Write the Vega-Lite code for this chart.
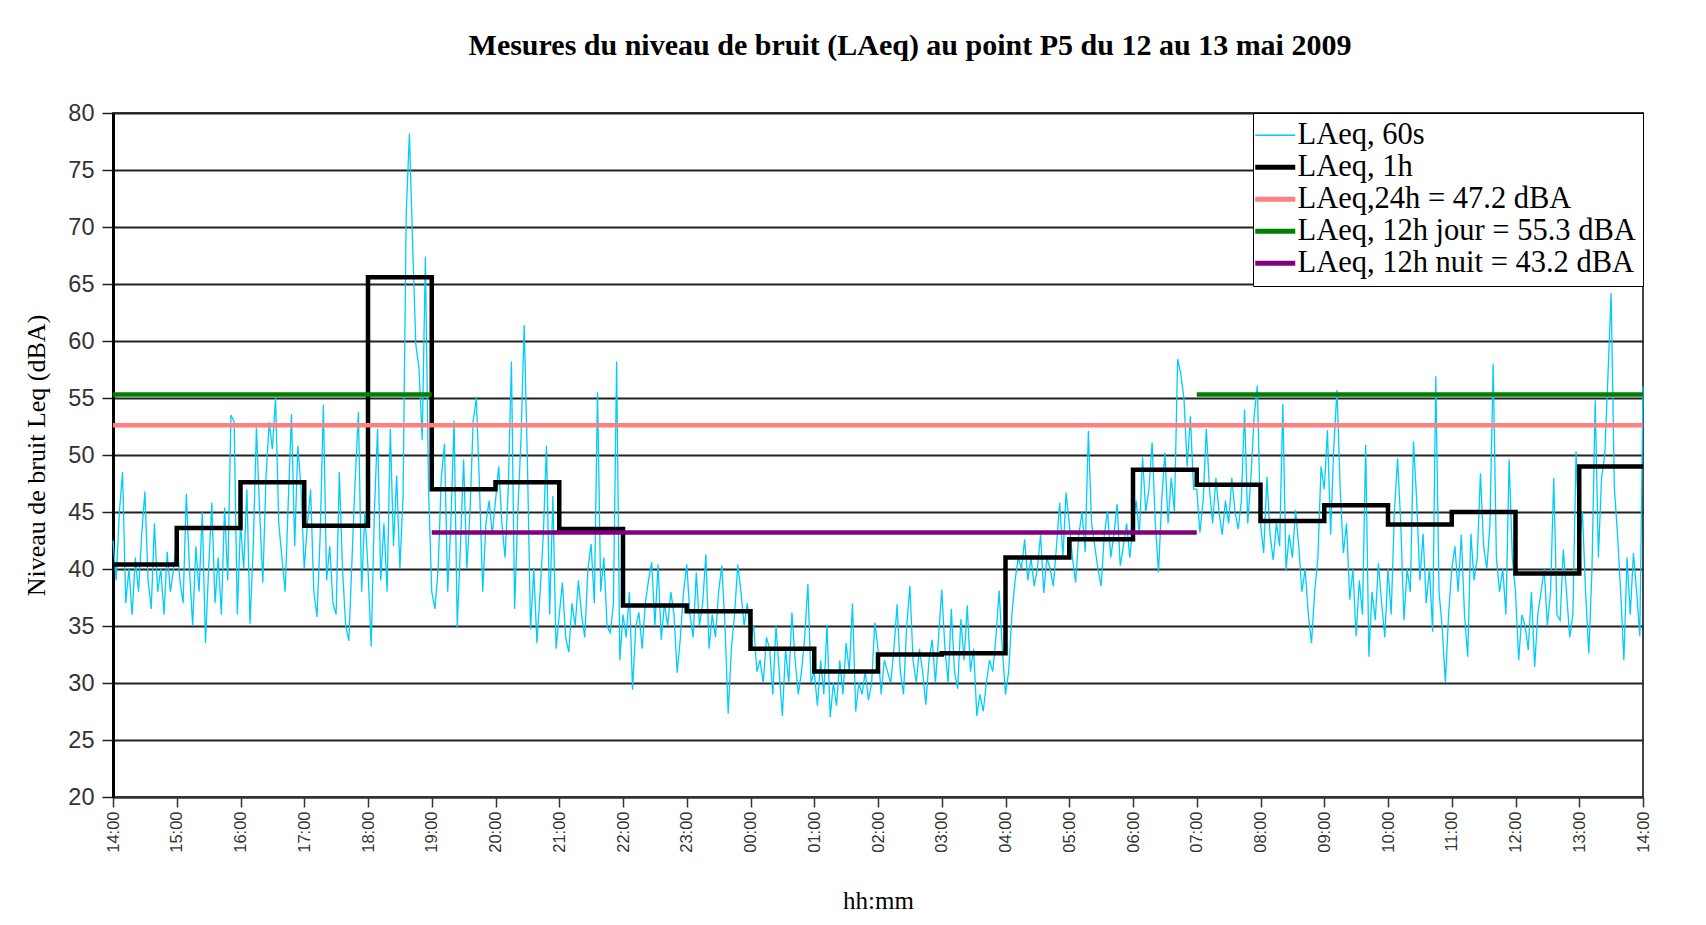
{
"$schema": "https://vega.github.io/schema/vega-lite/v6.json",
"width": 1530, "height": 684,
"autosize": {"type": "none"},
"padding": {"left": 113, "top": 113, "right": 63, "bottom": 128},
"background": "white",
"title": {"text": "Mesures du niveau de bruit (LAeq) au point P5 du 12 au 13 mai 2009", "font": "Liberation Serif", "fontSize": 30, "fontWeight": "bold", "color": "#000", "anchor": "middle", "frame": "group", "offset": 40, "dx": 32},
"data": {"values": [
{"s":"a","m":0,"v":42.5},{"s":"a","m":3,"v":39},{"s":"a","m":6,"v":45},{"s":"a","m":9,"v":48.5},{"s":"a","m":12,"v":37},{"s":"a","m":15,"v":40},{"s":"a","m":18,"v":36},{"s":"a","m":21,"v":41},{"s":"a","m":24,"v":38},{"s":"a","m":27,"v":43},{"s":"a","m":30,"v":46.8},{"s":"a","m":33,"v":39},{"s":"a","m":36,"v":36.5},{"s":"a","m":39,"v":44},{"s":"a","m":42,"v":38},{"s":"a","m":45,"v":40},{"s":"a","m":48,"v":36},{"s":"a","m":51,"v":41.5},{"s":"a","m":54,"v":38},{"s":"a","m":57,"v":40},
{"s":"a","m":60,"v":43},{"s":"a","m":63,"v":39},{"s":"a","m":66,"v":37},{"s":"a","m":69,"v":46.6},{"s":"a","m":72,"v":40},{"s":"a","m":75,"v":35},{"s":"a","m":78,"v":42},{"s":"a","m":81,"v":38},{"s":"a","m":84,"v":45},{"s":"a","m":87,"v":33.5},{"s":"a","m":90,"v":40},{"s":"a","m":93,"v":45.8},{"s":"a","m":96,"v":37},{"s":"a","m":99,"v":41},{"s":"a","m":102,"v":36},{"s":"a","m":105,"v":45.4},{"s":"a","m":108,"v":39},{"s":"a","m":111,"v":53.5},{"s":"a","m":114,"v":52.9},{"s":"a","m":117,"v":36},
{"s":"a","m":120,"v":44},{"s":"a","m":123,"v":40},{"s":"a","m":126,"v":47},{"s":"a","m":129,"v":35.2},{"s":"a","m":132,"v":42},{"s":"a","m":135,"v":52.4},{"s":"a","m":138,"v":45},{"s":"a","m":141,"v":38.8},{"s":"a","m":144,"v":48},{"s":"a","m":147,"v":52.9},{"s":"a","m":150,"v":50.5},{"s":"a","m":153,"v":55},{"s":"a","m":156,"v":44},{"s":"a","m":159,"v":41},{"s":"a","m":162,"v":38},{"s":"a","m":165,"v":46},{"s":"a","m":168,"v":53.6},{"s":"a","m":171,"v":42},{"s":"a","m":174,"v":50.8},{"s":"a","m":177,"v":47},
{"s":"a","m":180,"v":40},{"s":"a","m":183,"v":44},{"s":"a","m":186,"v":47},{"s":"a","m":189,"v":38},{"s":"a","m":192,"v":35.8},{"s":"a","m":195,"v":43},{"s":"a","m":198,"v":54.4},{"s":"a","m":201,"v":39},{"s":"a","m":204,"v":42},{"s":"a","m":207,"v":37},{"s":"a","m":210,"v":36},{"s":"a","m":213,"v":48.5},{"s":"a","m":216,"v":40},{"s":"a","m":219,"v":35},{"s":"a","m":222,"v":33.7},{"s":"a","m":225,"v":41},{"s":"a","m":228,"v":48},{"s":"a","m":231,"v":53.8},{"s":"a","m":234,"v":38},{"s":"a","m":237,"v":45},
{"s":"a","m":240,"v":40},{"s":"a","m":243,"v":33.2},{"s":"a","m":246,"v":45},{"s":"a","m":249,"v":52.3},{"s":"a","m":252,"v":39},{"s":"a","m":255,"v":44},{"s":"a","m":258,"v":38},{"s":"a","m":261,"v":52.3},{"s":"a","m":264,"v":42},{"s":"a","m":267,"v":48.2},{"s":"a","m":270,"v":40},{"s":"a","m":273,"v":46.4},{"s":"a","m":276,"v":71.3},{"s":"a","m":279,"v":78.2},{"s":"a","m":282,"v":68.5},{"s":"a","m":285,"v":59.7},{"s":"a","m":288,"v":57.6},{"s":"a","m":291,"v":51.3},{"s":"a","m":294,"v":67.4},{"s":"a","m":297,"v":47},
{"s":"a","m":300,"v":38},{"s":"a","m":303,"v":36.5},{"s":"a","m":306,"v":40},{"s":"a","m":309,"v":48},{"s":"a","m":312,"v":51},{"s":"a","m":315,"v":38},{"s":"a","m":318,"v":44},{"s":"a","m":321,"v":53},{"s":"a","m":324,"v":34.9},{"s":"a","m":327,"v":42},{"s":"a","m":330,"v":49.6},{"s":"a","m":333,"v":40},{"s":"a","m":336,"v":45},{"s":"a","m":339,"v":53},{"s":"a","m":342,"v":55},{"s":"a","m":345,"v":47},{"s":"a","m":348,"v":38},{"s":"a","m":351,"v":44},{"s":"a","m":354,"v":46},{"s":"a","m":357,"v":43},
{"s":"a","m":360,"v":46},{"s":"a","m":363,"v":49},{"s":"a","m":366,"v":44},{"s":"a","m":369,"v":41},{"s":"a","m":372,"v":47},{"s":"a","m":375,"v":58.2},{"s":"a","m":378,"v":36.5},{"s":"a","m":381,"v":45},{"s":"a","m":384,"v":51.4},{"s":"a","m":387,"v":61.4},{"s":"a","m":390,"v":49.6},{"s":"a","m":393,"v":34.7},{"s":"a","m":396,"v":40},{"s":"a","m":399,"v":33.5},{"s":"a","m":402,"v":38},{"s":"a","m":405,"v":43},{"s":"a","m":408,"v":50.8},{"s":"a","m":411,"v":36},{"s":"a","m":414,"v":46.4},{"s":"a","m":417,"v":33},
{"s":"a","m":420,"v":36},{"s":"a","m":423,"v":38.8},{"s":"a","m":426,"v":34},{"s":"a","m":429,"v":32.7},{"s":"a","m":432,"v":37},{"s":"a","m":435,"v":35},{"s":"a","m":438,"v":39},{"s":"a","m":441,"v":36},{"s":"a","m":444,"v":34},{"s":"a","m":447,"v":40},{"s":"a","m":450,"v":42.2},{"s":"a","m":453,"v":37},{"s":"a","m":456,"v":55.5},{"s":"a","m":459,"v":38},{"s":"a","m":462,"v":41},{"s":"a","m":465,"v":35},{"s":"a","m":468,"v":34.4},{"s":"a","m":471,"v":37},{"s":"a","m":474,"v":58.2},{"s":"a","m":477,"v":32},
{"s":"a","m":480,"v":36},{"s":"a","m":483,"v":34},{"s":"a","m":486,"v":38},{"s":"a","m":489,"v":29.4},{"s":"a","m":492,"v":35},{"s":"a","m":495,"v":36.2},{"s":"a","m":498,"v":33},{"s":"a","m":501,"v":37},{"s":"a","m":504,"v":39},{"s":"a","m":507,"v":40.6},{"s":"a","m":510,"v":35},{"s":"a","m":513,"v":40.4},{"s":"a","m":516,"v":33.8},{"s":"a","m":519,"v":37},{"s":"a","m":522,"v":35},{"s":"a","m":525,"v":38},{"s":"a","m":528,"v":36},{"s":"a","m":531,"v":30.9},{"s":"a","m":534,"v":34},{"s":"a","m":537,"v":38},
{"s":"a","m":540,"v":40.4},{"s":"a","m":543,"v":36},{"s":"a","m":546,"v":34},{"s":"a","m":549,"v":39.7},{"s":"a","m":552,"v":35},{"s":"a","m":555,"v":37},{"s":"a","m":558,"v":41.3},{"s":"a","m":561,"v":33},{"s":"a","m":564,"v":36},{"s":"a","m":567,"v":34},{"s":"a","m":570,"v":38},{"s":"a","m":573,"v":40.3},{"s":"a","m":576,"v":35},{"s":"a","m":579,"v":27.3},{"s":"a","m":582,"v":33},{"s":"a","m":585,"v":36},{"s":"a","m":588,"v":40.4},{"s":"a","m":591,"v":38},{"s":"a","m":594,"v":35},{"s":"a","m":597,"v":37},
{"s":"a","m":600,"v":34},{"s":"a","m":603,"v":35},{"s":"a","m":606,"v":31},{"s":"a","m":609,"v":32},{"s":"a","m":612,"v":30},{"s":"a","m":615,"v":34},{"s":"a","m":618,"v":33},{"s":"a","m":621,"v":29},{"s":"a","m":624,"v":35},{"s":"a","m":627,"v":31},{"s":"a","m":630,"v":27.1},{"s":"a","m":633,"v":33},{"s":"a","m":636,"v":30},{"s":"a","m":639,"v":36.2},{"s":"a","m":642,"v":32},{"s":"a","m":645,"v":29},{"s":"a","m":648,"v":31},{"s":"a","m":651,"v":34},{"s":"a","m":654,"v":38.7},{"s":"a","m":657,"v":30},
{"s":"a","m":660,"v":31},{"s":"a","m":663,"v":28},{"s":"a","m":666,"v":32},{"s":"a","m":669,"v":29},{"s":"a","m":672,"v":35.1},{"s":"a","m":675,"v":27},{"s":"a","m":678,"v":30},{"s":"a","m":681,"v":28},{"s":"a","m":684,"v":32},{"s":"a","m":687,"v":29},{"s":"a","m":690,"v":33.5},{"s":"a","m":693,"v":31},{"s":"a","m":696,"v":37},{"s":"a","m":699,"v":27.5},{"s":"a","m":702,"v":30},{"s":"a","m":705,"v":29},{"s":"a","m":708,"v":31},{"s":"a","m":711,"v":28.5},{"s":"a","m":714,"v":30},{"s":"a","m":717,"v":35.3},
{"s":"a","m":720,"v":33},{"s":"a","m":723,"v":29},{"s":"a","m":726,"v":32},{"s":"a","m":729,"v":31},{"s":"a","m":732,"v":30},{"s":"a","m":735,"v":33},{"s":"a","m":738,"v":36.9},{"s":"a","m":741,"v":31},{"s":"a","m":744,"v":29},{"s":"a","m":747,"v":35},{"s":"a","m":750,"v":38.5},{"s":"a","m":753,"v":32},{"s":"a","m":756,"v":30},{"s":"a","m":759,"v":33},{"s":"a","m":762,"v":31},{"s":"a","m":765,"v":28.1},{"s":"a","m":768,"v":32},{"s":"a","m":771,"v":33.8},{"s":"a","m":774,"v":30},{"s":"a","m":777,"v":34},
{"s":"a","m":780,"v":38.2},{"s":"a","m":783,"v":33},{"s":"a","m":786,"v":30},{"s":"a","m":789,"v":36.5},{"s":"a","m":792,"v":31},{"s":"a","m":795,"v":29.5},{"s":"a","m":798,"v":35.6},{"s":"a","m":801,"v":32},{"s":"a","m":804,"v":36.8},{"s":"a","m":807,"v":31},{"s":"a","m":810,"v":33},{"s":"a","m":813,"v":27.1},{"s":"a","m":816,"v":29},{"s":"a","m":819,"v":27.5},{"s":"a","m":822,"v":30},{"s":"a","m":825,"v":32},{"s":"a","m":828,"v":31},{"s":"a","m":831,"v":34},{"s":"a","m":834,"v":38.1},{"s":"a","m":837,"v":33},
{"s":"a","m":840,"v":29},{"s":"a","m":843,"v":31},{"s":"a","m":846,"v":36},{"s":"a","m":849,"v":39},{"s":"a","m":852,"v":41},{"s":"a","m":855,"v":40},{"s":"a","m":858,"v":42.6},{"s":"a","m":861,"v":39},{"s":"a","m":864,"v":41},{"s":"a","m":867,"v":38.5},{"s":"a","m":870,"v":40},{"s":"a","m":873,"v":43},{"s":"a","m":876,"v":37.9},{"s":"a","m":879,"v":41},{"s":"a","m":882,"v":40},{"s":"a","m":885,"v":38.5},{"s":"a","m":888,"v":42},{"s":"a","m":891,"v":45.8},{"s":"a","m":894,"v":41},{"s":"a","m":897,"v":46.7},
{"s":"a","m":900,"v":44},{"s":"a","m":903,"v":41},{"s":"a","m":906,"v":38.8},{"s":"a","m":909,"v":43},{"s":"a","m":912,"v":45},{"s":"a","m":915,"v":41.5},{"s":"a","m":918,"v":52.1},{"s":"a","m":921,"v":44},{"s":"a","m":924,"v":42},{"s":"a","m":927,"v":40},{"s":"a","m":930,"v":38.5},{"s":"a","m":933,"v":43},{"s":"a","m":936,"v":45.1},{"s":"a","m":939,"v":41},{"s":"a","m":942,"v":43},{"s":"a","m":945,"v":45.7},{"s":"a","m":948,"v":40.3},{"s":"a","m":951,"v":42},{"s":"a","m":954,"v":44},{"s":"a","m":957,"v":41},
{"s":"a","m":960,"v":44},{"s":"a","m":963,"v":46},{"s":"a","m":966,"v":43},{"s":"a","m":969,"v":49.8},{"s":"a","m":972,"v":45},{"s":"a","m":975,"v":47},{"s":"a","m":978,"v":51.1},{"s":"a","m":981,"v":44},{"s":"a","m":984,"v":39.7},{"s":"a","m":987,"v":46},{"s":"a","m":990,"v":50.2},{"s":"a","m":993,"v":44},{"s":"a","m":996,"v":48},{"s":"a","m":999,"v":45},{"s":"a","m":1002,"v":58.4},{"s":"a","m":1005,"v":57.1},{"s":"a","m":1008,"v":54.9},{"s":"a","m":1011,"v":49},{"s":"a","m":1014,"v":53.4},{"s":"a","m":1017,"v":47},
{"s":"a","m":1020,"v":47},{"s":"a","m":1023,"v":43.2},{"s":"a","m":1026,"v":46},{"s":"a","m":1029,"v":52.3},{"s":"a","m":1032,"v":47},{"s":"a","m":1035,"v":44},{"s":"a","m":1038,"v":48},{"s":"a","m":1041,"v":45},{"s":"a","m":1044,"v":43},{"s":"a","m":1047,"v":46},{"s":"a","m":1050,"v":44},{"s":"a","m":1053,"v":48},{"s":"a","m":1056,"v":45},{"s":"a","m":1059,"v":43.5},{"s":"a","m":1062,"v":46},{"s":"a","m":1065,"v":54},{"s":"a","m":1068,"v":44},{"s":"a","m":1071,"v":48},{"s":"a","m":1074,"v":53.4},{"s":"a","m":1077,"v":56.1},
{"s":"a","m":1080,"v":44},{"s":"a","m":1083,"v":41.4},{"s":"a","m":1086,"v":48.1},{"s":"a","m":1089,"v":43},{"s":"a","m":1092,"v":40.8},{"s":"a","m":1095,"v":44},{"s":"a","m":1098,"v":42},{"s":"a","m":1101,"v":54.5},{"s":"a","m":1104,"v":39.9},{"s":"a","m":1107,"v":43},{"s":"a","m":1110,"v":41},{"s":"a","m":1113,"v":45.2},{"s":"a","m":1116,"v":42},{"s":"a","m":1119,"v":38},{"s":"a","m":1122,"v":40},{"s":"a","m":1125,"v":36},{"s":"a","m":1128,"v":33.5},{"s":"a","m":1131,"v":38},{"s":"a","m":1134,"v":41},{"s":"a","m":1137,"v":49},
{"s":"a","m":1140,"v":47},{"s":"a","m":1143,"v":52.2},{"s":"a","m":1146,"v":43},{"s":"a","m":1149,"v":50.7},{"s":"a","m":1152,"v":55.7},{"s":"a","m":1155,"v":47},{"s":"a","m":1158,"v":41.4},{"s":"a","m":1161,"v":44},{"s":"a","m":1164,"v":37.3},{"s":"a","m":1167,"v":40},{"s":"a","m":1170,"v":34.1},{"s":"a","m":1173,"v":39},{"s":"a","m":1176,"v":36},{"s":"a","m":1179,"v":50.9},{"s":"a","m":1182,"v":32.3},{"s":"a","m":1185,"v":38},{"s":"a","m":1188,"v":35.5},{"s":"a","m":1191,"v":40.5},{"s":"a","m":1194,"v":37},{"s":"a","m":1197,"v":34},
{"s":"a","m":1200,"v":40},{"s":"a","m":1203,"v":36},{"s":"a","m":1206,"v":45},{"s":"a","m":1209,"v":49.7},{"s":"a","m":1212,"v":44},{"s":"a","m":1215,"v":35.5},{"s":"a","m":1218,"v":40},{"s":"a","m":1221,"v":38},{"s":"a","m":1224,"v":51.2},{"s":"a","m":1227,"v":46},{"s":"a","m":1230,"v":39},{"s":"a","m":1233,"v":43.1},{"s":"a","m":1236,"v":37},{"s":"a","m":1239,"v":40},{"s":"a","m":1242,"v":34.5},{"s":"a","m":1245,"v":56.9},{"s":"a","m":1248,"v":38},{"s":"a","m":1251,"v":34.9},{"s":"a","m":1254,"v":30},{"s":"a","m":1257,"v":36},
{"s":"a","m":1260,"v":40},{"s":"a","m":1263,"v":42},{"s":"a","m":1266,"v":38},{"s":"a","m":1269,"v":43},{"s":"a","m":1272,"v":36},{"s":"a","m":1275,"v":32.3},{"s":"a","m":1278,"v":43.1},{"s":"a","m":1281,"v":39},{"s":"a","m":1284,"v":41},{"s":"a","m":1287,"v":48.4},{"s":"a","m":1290,"v":42},{"s":"a","m":1293,"v":40},{"s":"a","m":1296,"v":44},{"s":"a","m":1299,"v":58},{"s":"a","m":1302,"v":41},{"s":"a","m":1305,"v":38},{"s":"a","m":1308,"v":40},{"s":"a","m":1311,"v":36},{"s":"a","m":1314,"v":49.6},{"s":"a","m":1317,"v":41},
{"s":"a","m":1320,"v":38},{"s":"a","m":1323,"v":32},{"s":"a","m":1326,"v":36},{"s":"a","m":1329,"v":35},{"s":"a","m":1332,"v":32.9},{"s":"a","m":1335,"v":38},{"s":"a","m":1338,"v":31.4},{"s":"a","m":1341,"v":36},{"s":"a","m":1344,"v":38},{"s":"a","m":1347,"v":40},{"s":"a","m":1350,"v":35},{"s":"a","m":1353,"v":38},{"s":"a","m":1356,"v":48},{"s":"a","m":1359,"v":36},{"s":"a","m":1362,"v":35.5},{"s":"a","m":1365,"v":41.7},{"s":"a","m":1368,"v":38},{"s":"a","m":1371,"v":34},{"s":"a","m":1374,"v":36},{"s":"a","m":1377,"v":50.3},
{"s":"a","m":1380,"v":42},{"s":"a","m":1383,"v":45},{"s":"a","m":1386,"v":37.9},{"s":"a","m":1389,"v":32.6},{"s":"a","m":1392,"v":40},{"s":"a","m":1395,"v":54.8},{"s":"a","m":1398,"v":41},{"s":"a","m":1401,"v":48},{"s":"a","m":1404,"v":50},{"s":"a","m":1407,"v":56.9},{"s":"a","m":1410,"v":64.2},{"s":"a","m":1413,"v":47.2},{"s":"a","m":1416,"v":43},{"s":"a","m":1419,"v":38},{"s":"a","m":1422,"v":32},{"s":"a","m":1425,"v":41},{"s":"a","m":1428,"v":36},{"s":"a","m":1431,"v":41.4},{"s":"a","m":1434,"v":38},{"s":"a","m":1437,"v":34.1},{"s":"a","m":1440,"v":56},
{"s":"b","m":0,"v":40.4},{"s":"b","m":60,"v":43.6},{"s":"b","m":120,"v":47.6},{"s":"b","m":180,"v":43.8},{"s":"b","m":240,"v":65.6},{"s":"b","m":300,"v":47.0},{"s":"b","m":360,"v":47.6},{"s":"b","m":420,"v":43.5},{"s":"b","m":480,"v":36.8},{"s":"b","m":540,"v":36.3},{"s":"b","m":600,"v":33.0},{"s":"b","m":660,"v":31.0},{"s":"b","m":720,"v":32.5},{"s":"b","m":780,"v":32.6},{"s":"b","m":840,"v":41.0},{"s":"b","m":900,"v":42.6},{"s":"b","m":960,"v":48.7},{"s":"b","m":1020,"v":47.4},{"s":"b","m":1080,"v":44.2},{"s":"b","m":1140,"v":45.6},{"s":"b","m":1200,"v":43.9},{"s":"b","m":1260,"v":45.0},{"s":"b","m":1320,"v":39.6},{"s":"b","m":1380,"v":49.0},{"s":"b","m":1440,"v":49.0},
{"s":"c","g":"g1","m":0,"v":52.6},{"s":"c","g":"g1","m":1440,"v":52.6},
{"s":"d","g":"g2","m":0,"v":55.3},{"s":"d","g":"g2","m":300,"v":55.3},
{"s":"d","g":"g3","m":1020,"v":55.3},{"s":"d","g":"g3","m":1440,"v":55.3},
{"s":"e","g":"g4","m":300,"v":43.2},{"s":"e","g":"g4","m":1020,"v":43.2}
]},
"encoding": {
  "x": {"field": "m", "type": "quantitative", "scale": {"domain": [0, 1440], "nice": false, "zero": false},
    "axis": {"values": [0,60,120,180,240,300,360,420,480,540,600,660,720,780,840,900,960,1020,1080,1140,1200,1260,1320,1380,1440],
      "labelExpr": "((floor(datum.value/60)+14)%24 < 10 ? '0' : '') + ((floor(datum.value/60)+14)%24) + ':00'",
      "grid": false, "domainColor": "#333", "domainWidth": 2, "tickColor": "#333", "tickSize": 10, "tickWidth": 1.5,
      "labelAngle": 270, "labelFont": "Liberation Sans", "labelFontSize": 16.5, "labelColor": "#333", "labelPadding": 4,
      "title": "hh:mm", "titleFont": "Liberation Serif", "titleFontSize": 25, "titleFontWeight": "normal", "titleColor": "#000", "titlePadding": 36}},
  "y": {"field": "v", "type": "quantitative", "scale": {"domain": [20, 80], "nice": false, "zero": false},
    "axis": {"values": [20,25,30,35,40,45,50,55,60,65,70,75,80], "grid": true, "gridColor": "#222", "gridWidth": 2, "gridOpacity": 1,
      "domainColor": "#000", "domainWidth": 3, "tickColor": "#222", "tickSize": 11, "tickWidth": 1.5,
      "labelFont": "Liberation Sans", "labelFontSize": 23.5, "labelColor": "#333", "labelPadding": 8,
      "title": "Niveau de bruit Leq (dBA)", "titleFont": "Liberation Serif", "titleFontSize": 26, "titleFontWeight": "normal", "titleColor": "#000", "titlePadding": 18}},
  "color": {"field": "s", "type": "nominal",
    "scale": {"domain": ["a","b","c","d","e"], "range": ["#00CCFF","#000000","#FF8080","#008000","#800080"]},
    "legend": {"title": null,
      "labelExpr": "datum.label == 'a' ? 'LAeq, 60s' : datum.label == 'b' ? 'LAeq, 1h' : datum.label == 'c' ? 'LAeq,24h = 47.2 dBA' : datum.label == 'd' ? 'LAeq, 12h jour = 55.3 dBA' : 'LAeq, 12h nuit = 43.2 dBA'",
      "encode": {"symbols": {"update": {"strokeWidth": {"signal": "datum.value == 'a' ? 1.5 : 5"}}}}}}
},
"layer": [
  {"transform": [{"filter": "datum.s == 'a'"}], "mark": {"type": "line", "strokeWidth": 1.3}},
  {"transform": [{"filter": "datum.s == 'b'"}], "mark": {"type": "line", "interpolate": "step-after", "strokeWidth": 4.5, "strokeJoin": "miter"}},
  {"transform": [{"filter": "datum.s != 'a' && datum.s != 'b'"}], "mark": {"type": "line", "strokeWidth": 4.5}, "encoding": {"detail": {"field": "g", "type": "nominal"}}}
],
"config": {
  "view": {"stroke": "#444", "strokeWidth": 2},
  "legend": {"orient": "top-right", "offset": 0, "strokeColor": "#000", "fillColor": "#fff", "padding": 7,
    "labelFont": "Liberation Serif", "labelFontSize": 30.5, "labelColor": "#000", "symbolSize": 1600, "symbolType": "stroke",
    "rowPadding": 1, "labelOffset": 7, "labelLimit": 600}
}
}
